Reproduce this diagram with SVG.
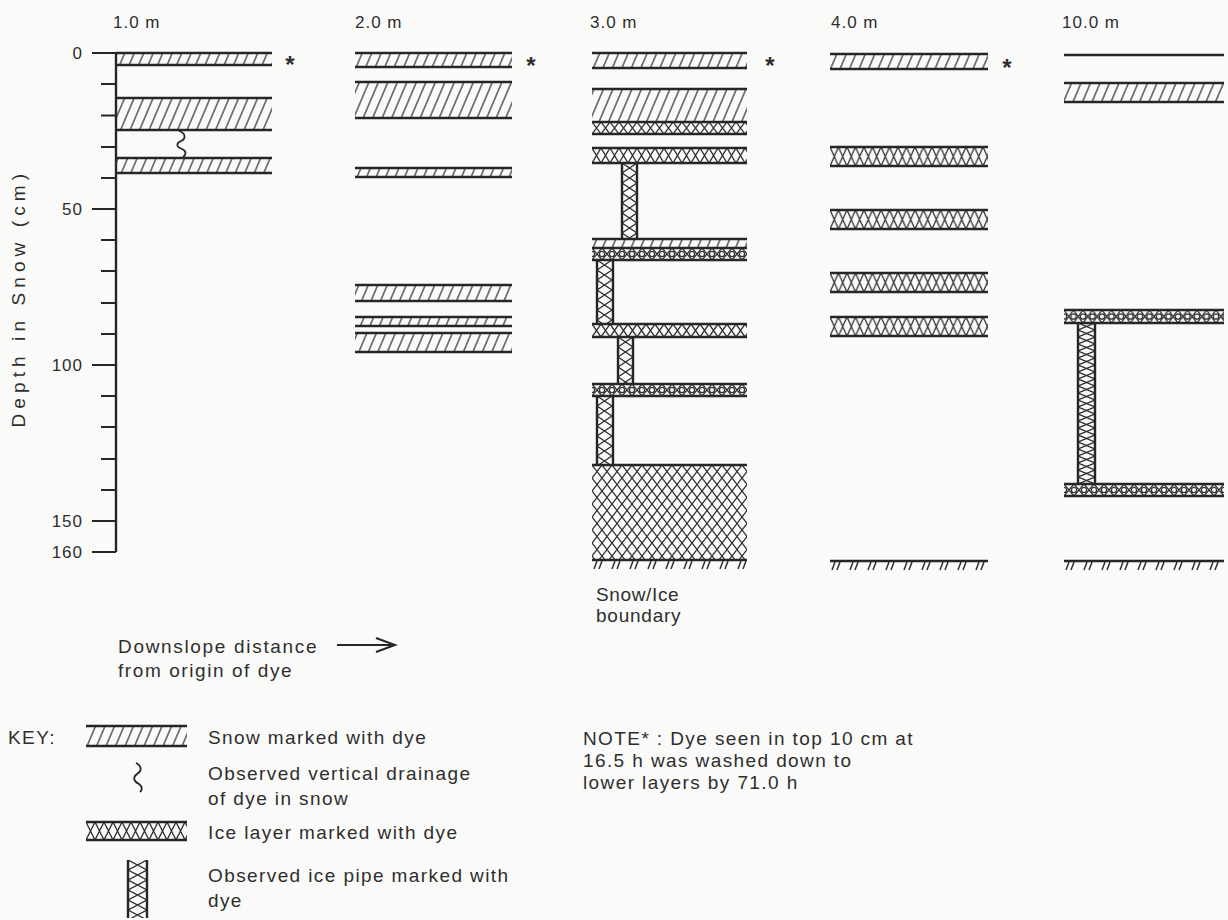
<svg xmlns="http://www.w3.org/2000/svg" width="1228" height="920" viewBox="0 0 1228 920">
<defs>
<style>
.t{font-family:"Liberation Sans",Arial,Helvetica,sans-serif;fill:#2e2e2e}
.lab{font-size:17px;letter-spacing:1px}
.cap{font-size:19px;letter-spacing:1.4px}
.star{font-size:24px;font-weight:bold;text-anchor:middle}
.b{stroke:#262626;stroke-width:2.4;fill:none}
.hp{stroke:#303030;stroke-width:1.3;fill:none}
.tk{stroke:#262626;stroke-width:2;fill:none}
</style>
<pattern id="snow" patternUnits="userSpaceOnUse" width="9.5" height="20" patternTransform="skewX(-23)">
<line x1="4.75" y1="0" x2="4.75" y2="20" class="hp"/>
</pattern>
<pattern id="x12" patternUnits="userSpaceOnUse" width="9" height="12"><path d="M0,0L9,12M9,0L0,12" class="hp"/></pattern>
<pattern id="x13" patternUnits="userSpaceOnUse" width="9" height="13"><path d="M0,0L9,13M9,0L0,13" class="hp"/></pattern>
<pattern id="x15" patternUnits="userSpaceOnUse" width="9" height="15"><path d="M0,0L9,15M9,0L0,15" class="hp"/></pattern>
<pattern id="x18" patternUnits="userSpaceOnUse" width="9" height="18"><path d="M0,0L9,18M9,0L0,18" class="hp"/></pattern>
<pattern id="x19" patternUnits="userSpaceOnUse" width="8.5" height="19"><path d="M0,0L8.5,19M8.5,0L0,19" class="hp"/></pattern>
<pattern id="o12" patternUnits="userSpaceOnUse" width="10" height="12"><path d="M0,0L10,12M10,0L0,12" class="hp"/><circle cx="0" cy="6" r="2.6" class="hp"/><circle cx="10" cy="6" r="2.6" class="hp"/></pattern>
<pattern id="o13" patternUnits="userSpaceOnUse" width="9.5" height="13"><path d="M0,0L9.5,13M9.5,0L0,13" class="hp"/><circle cx="0" cy="6.5" r="2.7" class="hp"/><circle cx="9.5" cy="6.5" r="2.7" class="hp"/></pattern>
<pattern id="mesh" patternUnits="userSpaceOnUse" width="10" height="13"><path d="M0,0L10,13M10,0L0,13" class="hp"/></pattern>
<pattern id="p15" patternUnits="userSpaceOnUse" width="15" height="10"><path d="M0,0L15,10M15,0L0,10" class="hp"/></pattern>
<pattern id="p17" patternUnits="userSpaceOnUse" width="17" height="7"><path d="M0,0L17,7M17,0L0,7" class="hp"/></pattern>
<pattern id="p19" patternUnits="userSpaceOnUse" width="19" height="10"><path d="M0,0L19,10M19,0L0,10" class="hp"/></pattern>
<pattern id="bh" patternUnits="userSpaceOnUse" width="18" height="9"><path d="M5,0L2,8M10,0L7,8" stroke="#303030" stroke-width="1.5" fill="none"/></pattern>
</defs>
<rect width="1228" height="920" fill="#fafaf8"/>

<g id="axis">
<path class="b" d="M116,53V552"/>
<path class="tk" d="M92,53H116M92,209H116M92,365H116M92,521H116M92,552H116"/>
<path class="tk" d="M101,84H116M101,115.5H116M101,147H116M101,178H116M101,240H116M101,271H116M101,303H116M101,334H116M101,396H116M101,427H116M101,459H116M101,490H116"/>
<g class="t lab" text-anchor="end">
<text x="83" y="59">0</text>
<text x="83" y="215">50</text>
<text x="83" y="371">100</text>
<text x="83" y="527">150</text>
<text x="83" y="558">160</text>
</g>
<text class="t cap" transform="translate(25,300) rotate(-90)" text-anchor="middle" textLength="255" lengthAdjust="spacing">Depth in Snow (cm)</text>
</g>

<g id="col-1m">
<text class="t lab" x="113" y="28">1.0 m</text>
<rect x="116" y="53" width="156" height="12" fill="url(#snow)"/>
<rect x="116" y="98" width="156" height="32" fill="url(#snow)"/>
<rect x="116" y="158" width="156" height="15" fill="url(#snow)"/>
<path class="b" d="M116,53H272M116,65H272M116,98H272M116,130H272M116,158H272M116,173H272"/>
<path d="M179,131C186,133 186,139 181,141C176,143 176,147 182,149C187,151 186,155 183,157" stroke="#262626" stroke-width="1.8" fill="none"/>
<text class="t star" x="290" y="73">*</text>
</g>

<g id="col-2m">
<text class="t lab" x="355" y="28">2.0 m</text>
<rect x="355" y="53" width="157" height="14" fill="url(#snow)"/>
<rect x="355" y="82" width="157" height="36" fill="url(#snow)"/>
<rect x="355" y="168" width="157" height="9" fill="url(#snow)"/>
<rect x="355" y="285" width="157" height="16" fill="url(#snow)"/>
<rect x="355" y="317" width="157" height="9" fill="url(#snow)"/>
<rect x="355" y="333" width="157" height="19" fill="url(#snow)"/>
<path class="b" d="M355,53H512M355,67H512M355,82H512M355,118H512M355,168H512M355,177H512M355,285H512M355,301H512M355,317H512M355,326H512M355,333H512M355,352H512"/>
<text class="t star" x="531" y="74">*</text>
</g>

<g id="col-3m">
<text class="t lab" x="590" y="28">3.0 m</text>
<rect x="592" y="53" width="155" height="15" fill="url(#snow)"/>
<rect x="592" y="89" width="155" height="33" fill="url(#snow)"/>
<rect transform="translate(592,122)" width="155" height="12" fill="url(#x12)"/>
<rect transform="translate(592,148)" width="155" height="15" fill="url(#x15)"/>
<rect x="592" y="239" width="155" height="9" fill="url(#snow)"/>
<rect transform="translate(592,248)" width="155" height="12" fill="url(#o12)"/>
<rect transform="translate(592,324)" width="155" height="13" fill="url(#x13)"/>
<rect transform="translate(592,384)" width="155" height="12" fill="url(#o12)"/>
<rect transform="translate(592,465)" width="155" height="95" fill="url(#mesh)"/>
<rect transform="translate(622,163)" width="15" height="76" fill="url(#p15)"/>
<rect transform="translate(597,260)" width="16" height="64" fill="url(#p15)"/>
<rect transform="translate(618,337)" width="15" height="47" fill="url(#p15)"/>
<rect transform="translate(597,396)" width="16" height="69" fill="url(#p15)"/>
<path class="b" d="M592,53H747M592,68H747M592,89H747M592,122H747M592,134H747M592,148H747M592,163H747M592,239H747M592,248H747M592,260H747M592,324H747M592,337H747M592,384H747M592,396H747M592,465H747M592,560H747"/>
<path class="b" d="M622,163V239M637,163V239M597,260V324M613,260V324M618,337V384M633,337V384M597,396V465M613,396V465"/>
<rect transform="translate(592,561)" width="155" height="9" fill="url(#bh)"/>
<text class="t cap" x="596" y="601" textLength="84" lengthAdjust="spacing">Snow/Ice</text>
<text class="t cap" x="596" y="622" textLength="86" lengthAdjust="spacing">boundary</text>
<text class="t star" x="770" y="74">*</text>
</g>

<g id="col-4m">
<text class="t lab" x="831" y="28">4.0 m</text>
<rect x="830" y="54" width="158" height="15" fill="url(#snow)"/>
<rect transform="translate(830,147)" width="158" height="19" fill="url(#x19)"/>
<rect transform="translate(830,210)" width="158" height="19" fill="url(#x19)"/>
<rect transform="translate(830,273)" width="158" height="19" fill="url(#x19)"/>
<rect transform="translate(830,317)" width="158" height="19" fill="url(#x19)"/>
<path class="b" d="M830,54H988M830,69H988M830,147H988M830,166H988M830,210H988M830,229H988M830,273H988M830,292H988M830,317H988M830,336H988M830,561H988"/>
<rect transform="translate(830,562)" width="158" height="9" fill="url(#bh)"/>
<text class="t star" x="1007" y="76">*</text>
</g>

<g id="col-10m">
<text class="t lab" x="1062" y="28">10.0 m</text>
<rect x="1064" y="83" width="160" height="19" fill="url(#snow)"/>
<rect transform="translate(1064,310)" width="160" height="13" fill="url(#o13)"/>
<rect transform="translate(1064,484)" width="160" height="12" fill="url(#o12)"/>
<rect transform="translate(1078,323)" width="17" height="161" fill="url(#p17)"/>
<path class="b" d="M1064,55H1224M1064,83H1224M1064,102H1224M1064,310H1224M1064,323H1224M1064,484H1224M1064,496H1224M1064,561H1224"/>
<path class="b" d="M1078,323V484M1095,323V484"/>
<rect transform="translate(1064,562)" width="160" height="9" fill="url(#bh)"/>
</g>

<g id="connectors">
<path d="M337,645H394M376,638L395,645L376,652" stroke="#262626" stroke-width="2" fill="none"/>
</g>

<g id="downslope-label">
<text class="t cap" x="118" y="653" textLength="200" lengthAdjust="spacing">Downslope distance</text>
<text class="t cap" x="118" y="677" textLength="175" lengthAdjust="spacing">from origin of dye</text>
</g>

<g id="key">
<text class="t cap" x="8" y="744">KEY:</text>
<rect x="86" y="726" width="101" height="20" fill="url(#snow)"/>
<path class="b" d="M86,726H187M86,746H187"/>
<text class="t cap" x="208" y="744">Snow marked with dye</text>
<path d="M136,763C142,766 142,771 137,774C133,777 133,781 139,784C143,787 142,790 140,792" stroke="#262626" stroke-width="1.8" fill="none"/>
<text class="t cap" x="208" y="780">Observed vertical drainage</text>
<text class="t cap" x="208" y="805">of dye in snow</text>
<rect transform="translate(86,822)" width="101" height="18" fill="url(#x18)"/>
<path class="b" d="M86,822H187M86,840H187"/>
<text class="t cap" x="208" y="839">Ice layer marked with dye</text>
<rect transform="translate(128,860)" width="19" height="58" fill="url(#p19)"/>
<path class="b" d="M128,860V918M147,860V918"/>
<text class="t cap" x="208" y="882">Observed ice pipe marked with</text>
<text class="t cap" x="208" y="907">dye</text>
</g>

<g id="note">
<text class="t cap" x="583" y="745">NOTE* :  Dye seen in top 10 cm at</text>
<text class="t cap" x="583" y="767">16.5 h was washed down to</text>
<text class="t cap" x="583" y="789">lower layers by 71.0 h</text>
</g>
</svg>
